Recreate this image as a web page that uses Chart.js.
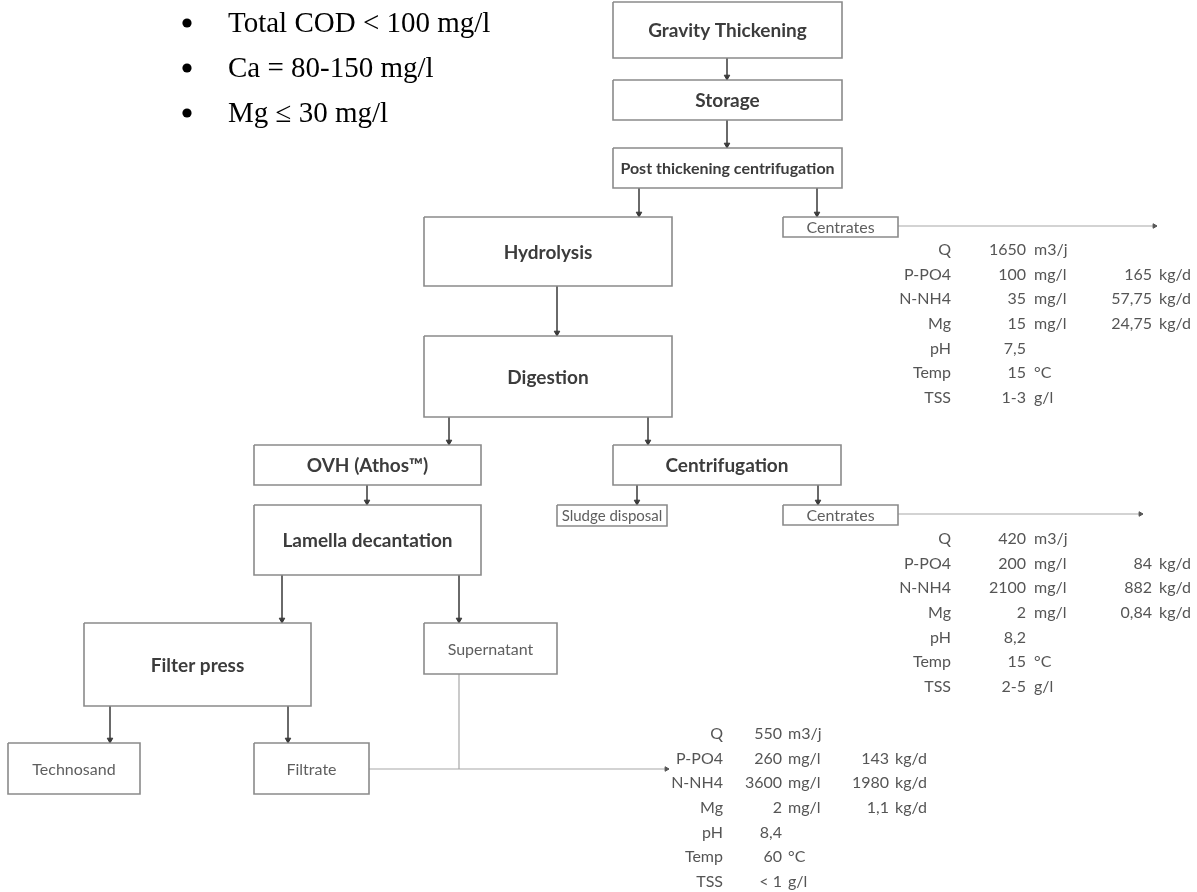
<!DOCTYPE html>
<html>
<head>
<meta charset="utf-8">
<script src="https://cdn.jsdelivr.net/npm/chart.js@4.4.1/dist/chart.umd.min.js"></script>
<style>
  html, body { margin: 0; padding: 0; background: #ffffff; }
  canvas { display: block; }
</style>
</head>
<body>
<canvas id="c" width="1197" height="892"></canvas>
<script>
// ---------- DATA ----------
const criteria = ['Total COD < 100 mg/l', 'Ca = 80-150 mg/l', 'Mg \u2264 30 mg/l'];

const processSteps = ['Gravity Thickening', 'Storage', 'Post thickening centrifugation', 'Hydrolysis',
  'Digestion', 'OVH (Athos\u2122)', 'Centrifugation', 'Lamella decantation', 'Filter press'];

const outputStreams = ['Centrates', 'Centrates', 'Sludge disposal', 'Supernatant', 'Technosand', 'Filtrate'];

const parameters = ['Q', 'P-PO4', 'N-NH4', 'Mg', 'pH', 'Temp', 'TSS'];

// Stream 1: centrates from post thickening centrifugation
const centrates1Values = ['1650', '100', '35', '15', '7,5', '15', '1-3'];
const centrates1Units  = ['m3/j', 'mg/l', 'mg/l', 'mg/l', '', '\u00b0C', 'g/l'];
const centrates1Loads  = ['', '165', '57,75', '24,75', '', '', ''];

// Stream 2: centrates from digestate centrifugation
const centrates2Values = ['420', '200', '2100', '2', '8,2', '15', '2-5'];
const centrates2Units  = ['m3/j', 'mg/l', 'mg/l', 'mg/l', '', '\u00b0C', 'g/l'];
const centrates2Loads  = ['', '84', '882', '0,84', '', '', ''];

// Stream 3: filtrate + supernatant
const filtrateValues = ['550', '260', '3600', '2', '8,4', '60', '< 1'];
const filtrateUnits  = ['m3/j', 'mg/l', 'mg/l', 'mg/l', '', '\u00b0C', 'g/l'];
const filtrateLoads  = ['', '143', '1980', '1,1', '', '', ''];

const loadUnit = 'kg/d';

// ---------- LAYOUT (chart units = page pixels) ----------
const boxLayout = [
  // [label, x1, y1, x2, y2, style]
  [processSteps[0], 613, 2, 842, 58, 'main'],
  [processSteps[1], 613, 80, 842, 120, 'main'],
  [processSteps[2], 613, 148, 842, 188, 'mainSmall'],
  [processSteps[3], 424, 217, 672, 286, 'main'],
  [outputStreams[0], 783, 217, 898, 237, 'small'],
  [processSteps[4], 424, 336, 672, 417, 'main'],
  [processSteps[5], 254, 445, 481, 485, 'main'],
  [processSteps[6], 613, 445, 841, 485, 'main'],
  [processSteps[7], 254, 505, 481, 575, 'main'],
  [outputStreams[2], 557, 505, 667, 526, 'tiny'],
  [outputStreams[1], 783, 505, 898, 525, 'small'],
  [processSteps[8], 84, 623, 311, 706, 'main'],
  [outputStreams[3], 424, 623, 557, 674, 'small'],
  [outputStreams[4], 8, 743, 140, 794, 'small'],
  [outputStreams[5], 254, 743, 369, 794, 'small']
];

const arrowLayout = [
  // [x1, y1, x2, y2]
  [727, 58, 727, 80], [727, 120, 727, 148],
  [639, 188, 639, 217], [817, 188, 817, 217],
  [557, 286, 557, 336],
  [449, 417, 449, 445], [648, 417, 648, 445],
  [367, 485, 367, 505],
  [637, 485, 637, 505], [818, 485, 818, 505],
  [282, 575, 282, 623], [459, 575, 459, 623],
  [110, 706, 110, 743], [288, 706, 288, 743]
];

const flowLayout = [
  // thin stream lines [x1, y1, x2, y2, arrow]
  [898, 226, 1157, 226, true],
  [898, 514, 1143, 514, true],
  [459, 674, 459, 769, false],
  [369, 769, 669, 769, true]
];

const tableLayout = [
  { values: centrates1Values, units: centrates1Units, loads: centrates1Loads,
    labelRight: 951, valueRight: 1026, unitLeft: 1034, loadRight: 1152, loadUnitLeft: 1159, top: 250 },
  { values: centrates2Values, units: centrates2Units, loads: centrates2Loads,
    labelRight: 951, valueRight: 1026, unitLeft: 1034, loadRight: 1152, loadUnitLeft: 1159, top: 539 },
  { values: filtrateValues, units: filtrateUnits, loads: filtrateLoads,
    labelRight: 723, valueRight: 782, unitLeft: 788, loadRight: 889, loadUnitLeft: 895, top: 734 }
];
const rowStep = 24.6;

const bulletLayout = { dotX: 187, textX: 228, baseline: 32, step: 45 };

const fontStyles = {
  main: 'bold 19px Lato',
  mainSmall: 'bold 16px Lato',
  small: '16px Lato',
  tiny: '15px Lato'
};
const colors = {
  box: '#8a8a8a', arrow: '#3a3a3a', flow: '#a8a8a8',
  boldText: '#3c3c3c', smallText: '#5e5e5e', table: '#555555', bullet: '#000000'
};

// ---------- DATASETS ----------
const datasets = [];
boxLayout.forEach(b => {
  const [, x1, y1, x2, y2] = b;
  datasets.push({
    data: [{x: x1, y: y1}, {x: x2, y: y1}, {x: x2, y: y2}, {x: x1, y: y2}, {x: x1, y: y1}],
    showLine: true, borderColor: colors.box, borderWidth: 1.6, pointRadius: 0, fill: false
  });
});
const headR = 3.2;
arrowLayout.forEach(a => {
  const [x1, y1, x2, y2] = a;
  datasets.push({
    data: [{x: x1, y: y1}, {x: x2, y: y2 - headR}, {x: x2, y: y2}],
    showLine: true, borderColor: colors.arrow, borderWidth: 1.5,
    pointRadius: [0, headR, 0], pointStyle: 'triangle', pointRotation: 180,
    pointBackgroundColor: colors.arrow, pointBorderColor: colors.arrow, pointBorderWidth: 1
  });
});
flowLayout.forEach(f => {
  const [x1, y1, x2, y2, arrow] = f;
  const horizontal = y1 === y2;
  const r = arrow ? 2.6 : 0;
  const mid = horizontal ? {x: x2 - r, y: y2} : {x: x2, y: y2 - r};
  datasets.push({
    data: [{x: x1, y: y1}, mid, {x: x2, y: y2}],
    showLine: true, borderColor: colors.flow, borderWidth: 1.2,
    pointRadius: [0, r, 0], pointStyle: 'triangle', pointRotation: horizontal ? 90 : 180,
    pointBackgroundColor: '#555', pointBorderColor: '#555', pointBorderWidth: 1
  });
});

// ---------- TEXT PLUGIN ----------
const textPlugin = {
  id: 'flowText',
  afterDatasetsDraw(chart) {
    const ctx = chart.ctx;
    const sx = v => chart.scales.x.getPixelForValue(v);
    const sy = v => chart.scales.y.getPixelForValue(v);
    ctx.save();
    // box labels
    ctx.textAlign = 'center';
    ctx.textBaseline = 'middle';
    boxLayout.forEach(b => {
      const [label, x1, y1, x2, y2, style] = b;
      ctx.font = fontStyles[style];
      ctx.fillStyle = (style === 'main' || style === 'mainSmall') ? colors.boldText : colors.smallText;
      ctx.fillText(label, sx((x1 + x2) / 2), sy((y1 + y2) / 2) + 1);
    });
    // tables
    ctx.font = '16px Lato';
    ctx.fillStyle = colors.table;
    tableLayout.forEach(t => {
      parameters.forEach((p, i) => {
        const y = sy(t.top + i * rowStep);
        ctx.textAlign = 'right';
        ctx.fillText(p, sx(t.labelRight), y);
        ctx.fillText(t.values[i], sx(t.valueRight), y);
        if (t.loads[i]) ctx.fillText(t.loads[i], sx(t.loadRight), y);
        ctx.textAlign = 'left';
        if (t.units[i]) ctx.fillText(t.units[i], sx(t.unitLeft), y);
        if (t.loads[i]) ctx.fillText(loadUnit, sx(t.loadUnitLeft), y);
      });
    });
    // bullets
    ctx.font = '29px "Liberation Serif", "Times New Roman", serif';
    ctx.fillStyle = colors.bullet;
    ctx.textAlign = 'left';
    ctx.textBaseline = 'alphabetic';
    criteria.forEach((c, i) => {
      const base = bulletLayout.baseline + i * bulletLayout.step;
      ctx.beginPath();
      ctx.arc(sx(bulletLayout.dotX), sy(base - 9), 4.6, 0, Math.PI * 2);
      ctx.fill();
      ctx.fillText(c, sx(bulletLayout.textX), sy(base));
    });
    ctx.restore();
  }
};

new Chart(document.getElementById('c'), {
  type: 'scatter',
  data: { datasets },
  options: {
    responsive: false,
    animation: false,
    devicePixelRatio: 1,
    layout: { padding: 0 },
    elements: { line: { tension: 0 } },
    plugins: { legend: { display: false }, tooltip: { enabled: false }, title: { display: false } },
    scales: {
      x: { type: 'linear', min: 0, max: 1197, display: false },
      y: { type: 'linear', min: 0, max: 892, reverse: true, display: false }
    }
  },
  plugins: [textPlugin]
});
</script>
</body>
</html>
